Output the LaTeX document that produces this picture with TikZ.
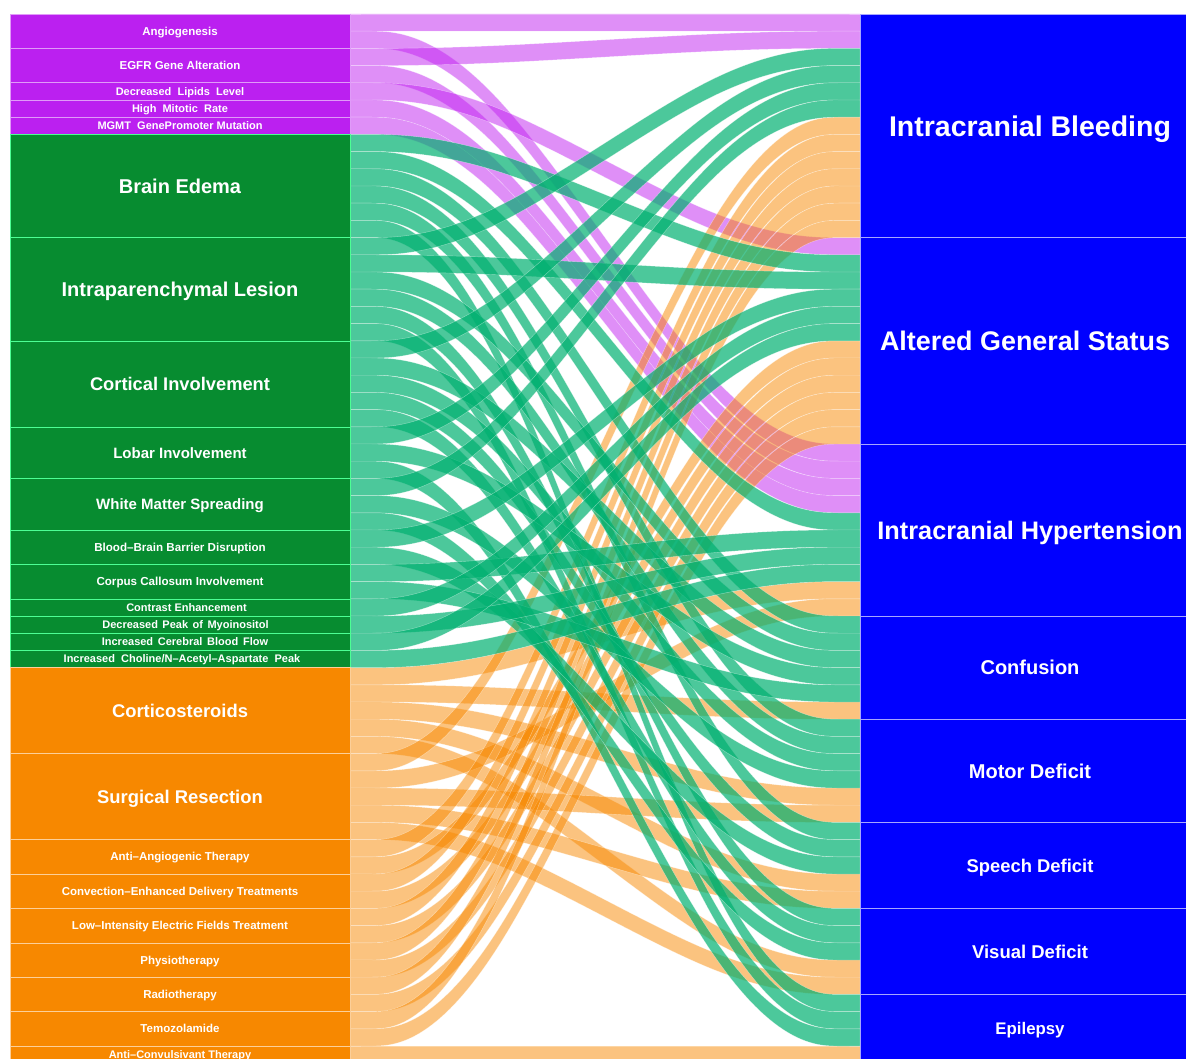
\documentclass[tikz,border=0pt]{standalone}
\usepackage{fontspec}
\setmainfont{Liberation Sans}
\definecolor{nP}{HTML}{BB20F0}
\definecolor{nG}{HTML}{078C30}
\definecolor{nO}{HTML}{F78800}
\definecolor{nB}{HTML}{0000FF}
\definecolor{fP}{HTML}{C020F0}
\definecolor{fG}{HTML}{00B070}
\definecolor{fO}{HTML}{F78800}
\newcount\lidx
\expandafter\def\csname ds1\endcsname{0}
\expandafter\def\csname ds2\endcsname{13}
\expandafter\def\csname ds3\endcsname{25}
\expandafter\def\csname ds4\endcsname{35}
\expandafter\def\csname ds5\endcsname{41}
\expandafter\def\csname ds6\endcsname{47}
\expandafter\def\csname ds7\endcsname{52}
\expandafter\def\csname ds8\endcsname{57}
\newcommand\initdc[8]{%
  \expandafter\xdef\csname dc1\endcsname{#1}%
  \expandafter\xdef\csname dc2\endcsname{#2}%
  \expandafter\xdef\csname dc3\endcsname{#3}%
  \expandafter\xdef\csname dc4\endcsname{#4}%
  \expandafter\xdef\csname dc5\endcsname{#5}%
  \expandafter\xdef\csname dc6\endcsname{#6}%
  \expandafter\xdef\csname dc7\endcsname{#7}%
  \expandafter\xdef\csname dc8\endcsname{#8}}
% one flow (lode) of one unit: x-spline-like S curve from left stratum to right stratum
\newcommand\myflow[2]{%
  \pgfmathsetmacro\yl{14+\the\lidx*17.2}%
  \pgfmathsetmacro\yr{14+(\csname ds#1\endcsname+\csname dc#1\endcsname)*17.2}%
  \pgfmathsetmacro\ya{\yl+(\yr-\yl)/6}%
  \pgfmathsetmacro\yb{\yl+(\yr-\yl)/3}%
  \pgfmathsetmacro\yc{\yl+2*(\yr-\yl)/3}%
  \pgfmathsetmacro\yd{\yl+5*(\yr-\yl)/6}%
  \path[#2] (350,\yl) -- (371.25,\yl) .. controls (392.5,\yl) and (435,\yl) .. (498.75,\ya)
     .. controls (562.5,\yb) and (647.5,\yc) .. (711.25,\yd)
     .. controls (775,\yr) and (817.5,\yr) .. (838.75,\yr) -- (860,\yr)
     -- (860,\yr+17.2) -- (838.75,\yr+17.2)
     .. controls (817.5,\yr+17.2) and (775,\yr+17.2) .. (711.25,\yd+17.2)
     .. controls (647.5,\yc+17.2) and (562.5,\yb+17.2) .. (498.75,\ya+17.2)
     .. controls (435,\yl+17.2) and (392.5,\yl+17.2) .. (371.25,\yl+17.2)
     -- (350,\yl+17.2) -- cycle;
  \global\advance\lidx by 1
  \pgfmathtruncatemacro\tmpc{\csname dc#1\endcsname+1}%
  \expandafter\xdef\csname dc#1\endcsname{\tmpc}}
\newcommand\lfs[1]{\fontsize{#1}{#1}\selectfont\bfseries}
\tikzset{
  flowP/.style={fill=fP, fill opacity=0.5, draw=white, draw opacity=0.45, line width=0.4pt},
  flowO/.style={fill=fO, fill opacity=0.5, draw=white, draw opacity=0.45, line width=0.4pt},
  flowG/.style={fill=fG, fill opacity=0.7, draw=white, draw opacity=0.45, line width=0.4pt},
  sbox/.style={minimum width=340pt, inner sep=0pt, text=white, line width=0.6pt, text depth=0pt},
  pbox/.style={sbox, fill=nP, draw=nP!45!white},
  gbox/.style={sbox, fill=nG, draw=green!60!cyan!70!white},
  obox/.style={sbox, fill=nO, draw=nO!40!white},
  bbox/.style={sbox, fill=nB, draw=nB!35!white},
}
\begin{document}
\begin{tikzpicture}[x=1pt,y=-1pt]
\useasboundingbox (0,0) rectangle (1186,1059);
\clip (0,0) rectangle (1186,1059);
% dest: 1 IB, 2 AGS, 3 IH, 4 Confusion, 5 Motor, 6 Speech, 7 Visual, 8 Epilepsy
% ---------- flows: purple ----------
\global\lidx=0 \initdc{0}{0}{0}{0}{0}{0}{0}{0}
\myflow{1}{flowP}\myflow{3}{flowP}% Angiogenesis
\myflow{1}{flowP}\myflow{3}{flowP}% EGFR
\myflow{2}{flowP}% lipids
\myflow{3}{flowP}% mitotic
\myflow{3}{flowP}% MGMT
% ---------- flows: orange ----------
\global\lidx=38 \initdc{6}{6}{8}{5}{4}{3}{3}{3}
\myflow{3}{flowO}\myflow{4}{flowO}\myflow{5}{flowO}\myflow{6}{flowO}\myflow{7}{flowO}% Corticosteroids
\myflow{1}{flowO}\myflow{3}{flowO}\myflow{5}{flowO}\myflow{6}{flowO}\myflow{7}{flowO}% Surgical
\myflow{1}{flowO}\myflow{2}{flowO}% AAT
\myflow{1}{flowO}\myflow{2}{flowO}% CED
\myflow{1}{flowO}\myflow{2}{flowO}% LIEF
\myflow{1}{flowO}\myflow{2}{flowO}% Physio
\myflow{1}{flowO}\myflow{2}{flowO}% Radio
\myflow{1}{flowO}\myflow{2}{flowO}% Temo
\myflow{8}{flowO}% ACT
% ---------- flows: green ----------
\global\lidx=7 \initdc{2}{1}{4}{0}{0}{0}{0}{0}
\myflow{2}{flowG}\myflow{3}{flowG}\myflow{4}{flowG}\myflow{5}{flowG}\myflow{6}{flowG}\myflow{8}{flowG}% BE
\myflow{1}{flowG}\myflow{2}{flowG}\myflow{4}{flowG}\myflow{5}{flowG}\myflow{7}{flowG}\myflow{8}{flowG}% IL
\myflow{1}{flowG}\myflow{4}{flowG}\myflow{5}{flowG}\myflow{6}{flowG}\myflow{7}{flowG}% CI
\myflow{1}{flowG}\myflow{4}{flowG}\myflow{8}{flowG}% LI
\myflow{1}{flowG}\myflow{5}{flowG}\myflow{7}{flowG}% WMS
\myflow{2}{flowG}\myflow{6}{flowG}% BBB
\myflow{3}{flowG}\myflow{4}{flowG}% CC
\myflow{2}{flowG}% CE
\myflow{3}{flowG}% DPM
\myflow{2}{flowG}% ICBF
\myflow{3}{flowG}% ICNAA
% ---------- left strata ----------
\node[pbox, minimum height=34.4pt, font=\lfs{11.5}] (angio) at (180,31.2) {Angiogenesis};
\node[pbox, minimum height=34.4pt, font=\lfs{11.5}] (egfr) at (180,65.6) {EGFR Gene Alteration};
\node[pbox, minimum height=17.2pt, font=\lfs{11}] (dll) at (180,91.4) {Decreased\ \ Lipids\ \ Level};
\node[pbox, minimum height=17.2pt, font=\lfs{11}] (hmr) at (180,108.6) {High\ \ Mitotic\ \ Rate};
\node[pbox, minimum height=17.2pt, font=\lfs{11}] (mgmt) at (180,125.8) {MGMT\ \ GenePromoter Mutation};
\node[gbox, minimum height=103.2pt, font=\lfs{20}] (be) at (180,186) {Brain Edema};
\node[gbox, minimum height=103.2pt, font=\lfs{20}] (il) at (180,289.2) {Intraparenchymal Lesion};
\node[gbox, minimum height=86pt, font=\lfs{18.3}] (ci) at (180,383.8) {Cortical Involvement};
\node[gbox, minimum height=51.6pt, font=\lfs{15}] (li) at (180,452.6) {Lobar Involvement};
\node[gbox, minimum height=51.6pt, font=\lfs{15}] (wms) at (180,504.2) {White Matter Spreading};
\node[gbox, minimum height=34.4pt, font=\lfs{11.6}] (bbb) at (180,547.2) {Blood–Brain Barrier Disruption};
\node[gbox, minimum height=34.4pt, font=\lfs{11.6}] (cc) at (180,581.6) {Corpus Callosum Involvement};
\node[gbox, minimum height=17.2pt, font=\lfs{11}] (ce) at (180,607.4) {\hspace*{13pt}Contrast Enhancement};
\node[gbox, minimum height=17.2pt, font=\lfs{11}] (dpm) at (180,624.6) {\hspace*{11pt}Decreased\hspace{4.5pt}Peak\hspace{4.5pt}of\hspace{4.5pt}Myoinositol};
\node[gbox, minimum height=17.2pt, font=\lfs{11}] (icbf) at (180,641.8) {\hspace*{10pt}Increased\hspace{4.7pt}Cerebral\hspace{4.7pt}Blood\hspace{4.7pt}Flow};
\node[gbox, minimum height=17.2pt, font=\lfs{11}] (icnaa) at (180,659) {\hspace*{4pt}Increased\ \ Choline/N–Acetyl–Aspartate\ \ Peak};
\node[obox, minimum height=86pt, font=\lfs{18.4}] (cort) at (180,710.6) {Corticosteroids};
\node[obox, minimum height=86pt, font=\lfs{18.4}] (sr) at (180,796.6) {Surgical Resection};
\node[obox, minimum height=34.4pt, font=\lfs{11.5}] (aat) at (180,856.8) {Anti–Angiogenic Therapy};
\node[obox, minimum height=34.4pt, font=\lfs{11.5}] (ced) at (180,891.2) {Convection–Enhanced Delivery Treatments};
\node[obox, minimum height=34.4pt, font=\lfs{11.5}] (lief) at (180,925.6) {Low–Intensity Electric Fields Treatment};
\node[obox, minimum height=34.4pt, font=\lfs{11.5}] (phys) at (180,960) {Physiotherapy};
\node[obox, minimum height=34.4pt, font=\lfs{11.5}] (radio) at (180,994.4) {Radiotherapy};
\node[obox, minimum height=34.4pt, font=\lfs{11.5}] (temo) at (180,1028.8) {Temozolamide};
\node[obox, minimum height=17.2pt, font=\lfs{11}] (act) at (180,1054.6) {Anti–Convulsivant Therapy};
% ---------- right strata ----------
\node[bbox, minimum height=223.6pt, font=\lfs{28.5}] (ib) at (1030,125.8) {Intracranial Bleeding};
\node[bbox, minimum height=206.4pt, font=\lfs{26.9}] (ags) at (1030,340.8) {Altered General Status\hspace*{10pt}};
\node[bbox, minimum height=172pt, font=\lfs{25.3}] (ih) at (1030,530) {Intracranial Hypertension};
\node[bbox, minimum height=103.2pt, font=\lfs{20}] (conf) at (1030,667.6) {Confusion};
\node[bbox, minimum height=103.2pt, font=\lfs{20}] (motor) at (1030,770.8) {Motor Deficit};
\node[bbox, minimum height=86pt, font=\lfs{18.4}] (speech) at (1030,865.4) {Speech Deficit};
\node[bbox, minimum height=86pt, font=\lfs{18.5}] (visual) at (1030,951.4) {Visual Deficit};
\node[bbox, minimum height=68.8pt, font=\lfs{16.8}] (epi) at (1030,1028.8) {Epilepsy};
\end{tikzpicture}
\end{document}
